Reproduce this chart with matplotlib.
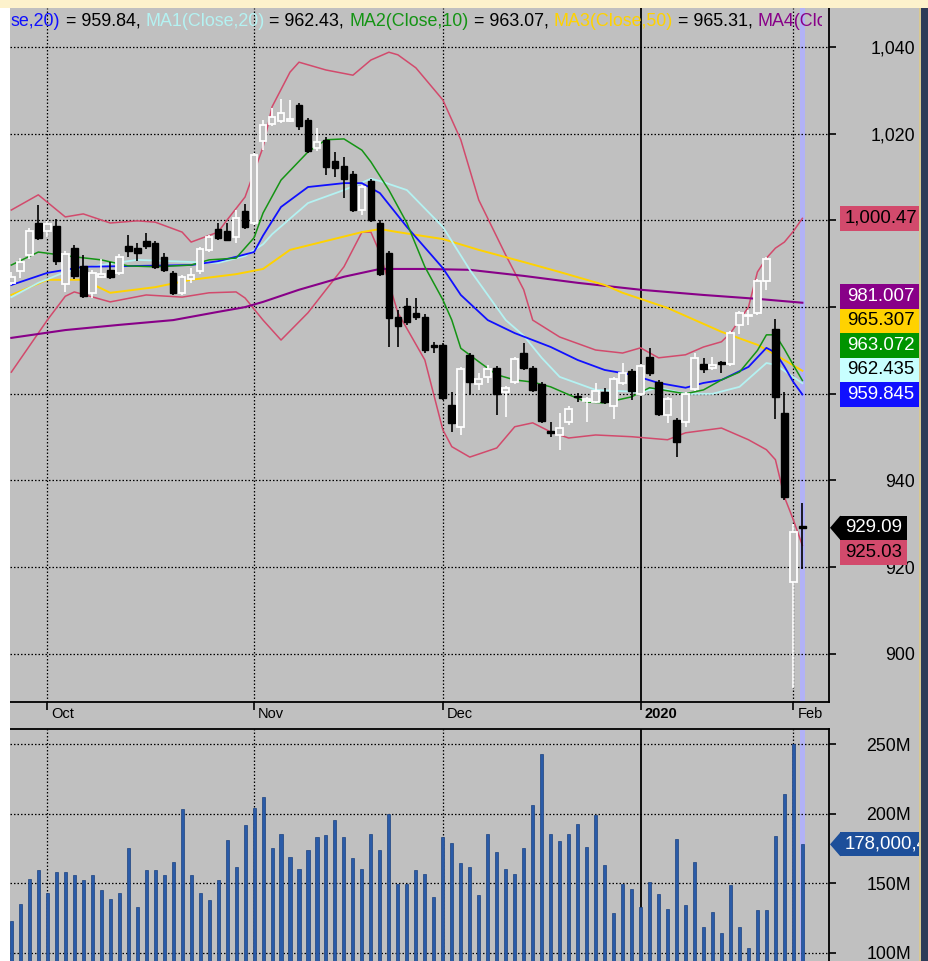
import matplotlib
matplotlib.use("Agg")
import matplotlib.pyplot as plt
from matplotlib import font_manager
from matplotlib.patches import Rectangle, Polygon
from matplotlib.transforms import blended_transform_factory, Bbox

# ---- daily bars (index 0 = first visible bar) ----
OPEN = [985.6, 988.3, 992.0, 999.4, 997.6, 998.7, 985.3, 993.6, 989.5, 983.3,
        987.0, 988.6, 987.9, 994.1, 993.6, 995.3, 994.8, 991.6, 987.9, 983.3,
        986.5, 988.3, 993.2, 998.0, 997.6, 996.2, 1002.2, 999.4, 1018.3, 1022.2,
        1022.9, 1023.0, 1026.6, 1023.2, 1016.7, 1018.6, 1013.7, 1012.6, 1010.7, 1002.4,
        1009.1, 999.4, 992.5, 977.7, 980.3, 978.7, 977.7, 971.0, 971.3, 957.4,
        952.4, 969.0, 962.3, 963.9, 966.0, 960.4, 962.7, 969.4, 966.0, 962.3,
        951.2, 950.5, 953.5, 959.4, 958.4, 958.1, 960.4, 957.2, 962.5, 965.3,
        960.0, 968.5, 962.7, 955.1, 954.0, 953.5, 961.1, 966.9, 966.0, 967.4,
        966.9, 975.9, 977.9, 978.7, 986.0, 975.0, 955.6, 916.6, 929.2]
HIGH = [988.0, 991.3, 998.3, 1003.6, 999.8, 1000.3, 993.0, 994.3, 992.0, 988.5,
        991.1, 990.4, 992.3, 996.6, 994.8, 997.1, 995.3, 992.5, 988.3, 987.4,
        989.0, 993.8, 996.7, 999.4, 999.4, 1002.4, 1003.8, 1015.6, 1023.2, 1025.9,
        1028.0, 1027.8, 1027.0, 1023.6, 1021.3, 1019.3, 1015.8, 1014.6, 1011.4, 1008.2,
        1009.6, 1000.0, 993.0, 979.3, 982.1, 982.1, 978.3, 972.0, 971.8, 960.4,
        966.2, 969.5, 964.8, 966.6, 966.4, 961.8, 968.5, 971.7, 966.4, 962.7,
        953.5, 955.6, 957.2, 960.2, 959.2, 962.5, 961.4, 963.8, 967.1, 965.7,
        966.9, 970.6, 963.2, 959.3, 954.5, 960.5, 969.4, 968.3, 968.5, 967.6,
        974.5, 979.2, 979.3, 986.5, 991.6, 977.3, 960.4, 930.0, 934.8]
LOW = [985.0, 986.7, 991.0, 995.5, 996.2, 989.7, 983.5, 986.5, 982.0, 982.2,
       986.6, 986.5, 987.5, 991.6, 990.6, 993.4, 988.8, 988.1, 982.9, 982.8,
       985.6, 987.7, 992.8, 995.5, 995.2, 994.8, 998.0, 999.0, 1016.2, 1021.8,
       1022.5, 1022.7, 1020.9, 1015.6, 1016.0, 1010.5, 1010.0, 1005.2, 1002.0, 1001.3,
       999.6, 987.2, 970.8, 970.8, 975.8, 977.0, 969.5, 969.4, 958.5, 951.2,
       950.5, 959.8, 960.9, 962.5, 955.1, 954.7, 962.2, 965.5, 960.5, 953.3,
       950.1, 947.1, 952.8, 958.1, 953.5, 957.8, 957.7, 954.2, 962.0, 958.6,
       959.5, 964.2, 954.9, 953.3, 945.4, 952.4, 960.6, 964.8, 965.6, 964.8,
       966.4, 973.8, 975.9, 978.2, 984.0, 954.2, 935.5, 892.2, 919.6]
CLOSE = [987.0, 990.4, 997.6, 995.9, 999.2, 990.6, 992.3, 987.2, 982.6, 987.9,
         987.7, 987.0, 991.6, 993.0, 992.5, 994.1, 989.3, 988.6, 983.3, 987.0,
         987.4, 993.4, 996.2, 995.9, 995.5, 1000.6, 998.5, 1015.1, 1022.0, 1023.9,
         1024.8, 1023.4, 1021.8, 1016.0, 1018.1, 1012.3, 1012.1, 1009.6, 1002.4, 1007.7,
         1000.1, 987.7, 977.5, 975.7, 976.6, 977.7, 970.1, 970.8, 959.0, 953.3,
         965.7, 962.7, 963.4, 965.7, 960.0, 961.4, 968.0, 966.0, 960.9, 953.7,
         951.0, 952.1, 956.5, 959.2, 958.8, 960.7, 958.1, 963.4, 964.8, 960.7,
         966.4, 964.8, 955.4, 958.8, 948.9, 960.0, 968.3, 965.7, 966.7, 966.9,
         974.0, 978.7, 978.1, 986.0, 991.1, 959.3, 936.2, 928.1, 929.09]
VOLUME_M = [122.7, 134.8, 153.4, 159.4, 142.8, 158.5, 158.5, 155.8, 152.2, 155.8,
            144.9, 138.9, 142.8, 175.1, 133.1, 159.4, 159.4, 155.8, 165.5, 203.6,
            155.8, 142.8, 137.9, 152.2, 181.2, 162.1, 191.6, 204.1, 212.1, 175.1,
            185.8, 169.1, 160.6, 173.9, 183.3, 184.5, 195.4, 183.3, 167.9, 160.6,
            185.8, 173.9, 200.0, 149.8, 149.8, 159.4, 157.0, 140.4, 183.3, 178.8,
            164.3, 161.8, 141.5, 185.5, 172.2, 160.6, 157.0, 175.1, 206.0, 243.0,
            185.5, 180.7, 185.5, 192.8, 175.9, 199.3, 163.0, 128.8, 149.8, 146.1,
            133.1, 151.0, 142.5, 131.7, 181.9, 134.3, 165.5, 118.6, 129.5, 114.3,
            148.8, 118.6, 103.4, 130.7, 130.7, 184.3, 214.0, 250.0, 178.0]

# ---- indicator lines, read at selected bars ----
MA_X = [0, 4, 8, 14, 20, 23, 25, 27, 28, 30, 33, 37, 39, 41, 44, 48, 50, 53, 56, 60,
        63, 66, 69, 72, 75, 77, 79, 82, 84, 85, 86, 87, 88]
MA_Y = [985.1, 987.9, 989.3, 989.5, 989.7, 990.6, 991.6, 992.7, 996.5, 1003.1, 1007.7,
        1008.6, 1008.6, 1006.3, 998.5, 989.0, 982.8, 977.0, 974.0, 970.8, 967.8, 965.5,
        964.4, 962.5, 961.4, 962.5, 963.2, 966.2, 970.6, 969.5, 966.3, 962.7, 959.845]
MA1_X = [0, 3, 6, 10, 14, 20, 23, 26, 28, 29, 33, 37, 40, 41, 44, 48, 51, 55, 57, 59,
         61, 65, 70, 72, 75, 78, 81, 84, 85, 88]
MA1_Y = [982.3, 985.6, 988.1, 989.7, 990.9, 990.4, 990.2, 991.8, 994.5, 996.8, 1004.0,
         1007.0, 1009.6, 1009.1, 1007.0, 998.5, 988.6, 977.0, 973.4, 968.3, 963.9, 960.9,
         960.4, 961.4, 960.0, 960.0, 961.6, 967.1, 966.7, 962.435]
MA2_X = [0, 3, 7, 10, 13, 16, 20, 22, 25, 27, 28, 30, 33, 35, 37, 39, 40, 42, 44, 46,
         48, 49, 50, 52, 54, 56, 58, 60, 62, 64, 66, 69, 71, 75, 77, 79, 81, 83, 84, 85,
         86, 87, 88]
MA2_Y = [989.7, 992.7, 991.6, 990.9, 989.5, 989.3, 989.7, 990.9, 991.3, 996.0, 1001.7,
         1009.3, 1015.8, 1018.6, 1018.8, 1016.2, 1013.5, 1007.0, 999.4, 989.3, 981.7,
         977.0, 970.5, 967.4, 964.4, 963.2, 962.7, 961.6, 959.8, 958.1, 957.9, 959.3,
         961.4, 960.0, 960.9, 963.2, 965.0, 970.0, 973.6, 973.6, 970.3, 966.6, 963.072]
MA3_X = [0, 4, 8, 11, 16, 20, 25, 28, 31, 39, 41, 43, 48, 52, 57, 61, 66, 68, 73, 79,
         83, 85, 88]
MA3_Y = [982.8, 986.3, 986.3, 983.3, 984.6, 986.3, 987.6, 988.8, 993.2, 997.3, 998.0,
         997.3, 995.7, 993.2, 990.4, 988.1, 985.1, 983.3, 979.8, 974.3, 971.3, 969.0,
         965.307]
MA4_X = [0, 6, 12, 18, 23, 26, 28, 32, 37, 41, 46, 51, 57, 63, 70, 77, 83, 88]
MA4_Y = [972.9, 974.7, 975.9, 977.0, 978.9, 980.0, 981.2, 984.0, 987.0, 988.8, 988.8,
         988.6, 987.2, 985.6, 984.0, 982.8, 981.9, 981.007]
BB_UP_X = [0, 3, 6, 8, 11, 14, 16, 19, 20, 23, 24, 26, 28, 29, 31, 32, 35, 38, 40, 42,
           43, 45, 48, 50, 52, 55, 57, 58, 61, 65, 68, 70, 72, 75, 77, 79, 80, 82, 83,
           84, 85, 86, 87, 88]
BB_UP_Y = [1002.4, 1005.9, 1000.8, 1001.5, 999.4, 999.9, 999.6, 997.3, 995.0, 997.3,
           1000.1, 1005.4, 1016.9, 1026.2, 1034.2, 1036.5, 1034.7, 1033.5, 1037.0, 1038.8,
           1038.2, 1035.2, 1027.8, 1018.6, 1004.7, 992.0, 984.0, 977.0, 973.1, 970.1,
           969.4, 970.6, 968.3, 969.0, 970.8, 972.0, 974.0, 980.0, 988.1, 991.3, 993.6,
           995.0, 997.5, 1000.47]
BB_LO_X = [0, 2, 4, 6, 7, 11, 15, 19, 22, 25, 26, 28, 30, 33, 37, 39, 40, 41, 43, 46,
           48, 49, 51, 54, 56, 58, 60, 62, 65, 69, 73, 75, 79, 80, 82, 84, 85, 86, 87, 88]
BB_LO_Y = [965.0, 971.0, 977.0, 982.5, 983.5, 981.2, 982.8, 982.3, 983.3, 983.5, 982.1,
           977.0, 972.4, 978.7, 989.3, 997.3, 997.3, 992.5, 978.7, 967.8, 951.7, 947.8,
           945.4, 947.5, 952.4, 953.3, 951.2, 949.8, 950.5, 950.1, 949.4, 951.0, 952.1,
           951.2, 949.4, 947.1, 944.8, 936.2, 930.9, 925.03]

MONTH_POS = [4, 27, 48, 70, 87]
MONTH_LABELS = ["Oct", "Nov", "Dec", "2020", "Feb"]
YEAR_POS = 70
PRICE_TICKS = [900, 920, 940, 960, 980, 1000, 1020, 1040]
# 960 / 980 / 1,000 sit under the value boxes in the original
PRICE_TICK_LABELS = ["900", "920", "940", "", "", "", "1,020", "1,040"]
VOL_TICKS = [100, 150, 200, 250]
VOL_TICK_LABELS = ["100M", "150M", "200M", "250M"]

# colours
BG = "#c0c0c0"
C_MA = "#1010ff"
C_MA1 = "#b4f2f2"
C_MA2 = "#149414"
C_MA3 = "#ffd200"
C_MA4 = "#880088"
C_BB = "#d24a6c"
C_VOL = "#2a5ba8"

LEGEND_PARTS = [("se,20)", C_MA), ("= 959.84,", "black"),
                ("MA1(Close,20)", C_MA1), ("= 962.43,", "black"),
                ("MA2(Close,10)", C_MA2), ("= 963.07,", "black"),
                ("MA3(Close,50)", C_MA3), ("= 965.31,", "black"),
                ("MA4(Close,200)", C_MA4), ("= 981.01", "black")]

# right-side value boxes: upper group stacks upward from the blue one
UPPER_BOXES = [(959.845, "959.845", C_MA, "white"),
               (962.435, "962.435", "#c8ffff", "black"),
               (963.072, "963.072", "#009400", "white"),
               (965.307, "965.307", C_MA3, "black"),
               (981.007, "981.007", C_MA4, "white")]
TOP_BOX = (1000.47, "1,000.47", C_BB, "black")
LAST_BOX = (929.09, "929.09", "black", "white")
LOW_BOX = (925.03, "925.03", C_BB, "black")
VOL_BOX = (178.0, "178,000,4", "#1d4f9a", "white")


def pick_font(names):
    for n in names:
        try:
            font_manager.findfont(font_manager.FontProperties(family=n),
                                  fallback_to_default=False)
            return n, True
        except Exception:
            pass
    return "Liberation Sans", False


FONT, NARROW = pick_font(["Liberation Sans Narrow"])
if NARROW:
    FS_LEG, FS_AX, FS_BOX, FS_DATE = 15, 15.5, 16, 12.5
else:
    FS_LEG, FS_AX, FS_BOX, FS_DATE = 12.85, 12.8, 13.4, 10.5
plt.rcParams["font.family"] = [FONT, "DejaVu Sans"]

W, H = 929, 961
fig = plt.figure(figsize=(W / 100, H / 100), dpi=100, facecolor=BG)


def fx(px):
    return px / W


def fy(py):
    return 1 - py / H


# page decoration
fig.patches.append(Rectangle((0, 0), fx(10), 1, transform=fig.transFigure,
                             facecolor="white", edgecolor="none", zorder=0))
fig.patches.append(Rectangle((0, fy(8)), 1, 1 - fy(8), transform=fig.transFigure,
                             facecolor="#fdf2cc", edgecolor="none", zorder=0))

ax = fig.add_axes([fx(10), fy(702), fx(829) - fx(10), fy(8) - fy(702)])
axv = fig.add_axes([fx(10), 0, fx(829) - fx(10), fy(729)])

n = len(CLOSE)
idx = list(range(n))
XMAX = (829 - 10) / 8.989 - 0.15

for a in (ax, axv):
    a.set_facecolor(BG)
    a.set_xlim(-0.15, XMAX)
    for s in ("left", "top", "bottom", "right"):
        a.spines[s].set_visible(False)
    a.spines["right"].set_visible(True)
    a.spines["right"].set_linewidth(1.3)
    a.yaxis.tick_right()
    for p in MONTH_POS:
        if p == YEAR_POS:
            a.axvline(p, color="black", lw=1.3, zorder=1.2)
        else:
            a.axvline(p, color="black", lw=0.9, ls=(0, (1.2, 1.6)), zorder=1.2)
    # current bar highlight
    a.axvspan(n - 1 - 0.3, n - 1 + 0.3, color="#b2b2f6", lw=0, zorder=0.8)

ax.spines["bottom"].set_visible(True)
ax.spines["bottom"].set_linewidth(1.3)
axv.spines["top"].set_visible(True)
axv.spines["top"].set_linewidth(1.3)

# ---- price panel ----
ax.set_ylim(888.9, 1049.0)
for v in PRICE_TICKS:
    ax.axhline(v, color="black", lw=0.9, ls=(0, (1.2, 1.6)), zorder=1.2)
ax.set_yticks(PRICE_TICKS)
ax.set_yticklabels(PRICE_TICK_LABELS)
ax.tick_params(axis="y", direction="out", length=5, width=1.2, pad=57,
               labelsize=FS_AX, colors="black")
for lab in ax.get_yticklabels():
    lab.set_horizontalalignment("right")

ax.set_xticks(MONTH_POS)
ax.set_xticklabels([])
ax.tick_params(axis="x", direction="out", length=6, width=1.2)
trans_x = blended_transform_factory(ax.transData, ax.transAxes)
for p, lab in zip(MONTH_POS, MONTH_LABELS):
    ax.text(p + 0.45, -0.0175, lab, transform=trans_x, ha="left", va="center",
            fontsize=FS_DATE, fontweight="bold" if lab == "2020" else "normal",
            color="black", clip_on=False)

# bands and moving averages
ax.plot(BB_UP_X, BB_UP_Y, color=C_BB, lw=1.1, zorder=2)
ax.plot(BB_LO_X, BB_LO_Y, color=C_BB, lw=1.1, zorder=2)
ax.plot(MA4_X, MA4_Y, color=C_MA4, lw=1.5, zorder=2.1)
ax.plot(MA3_X, MA3_Y, color=C_MA3, lw=1.4, zorder=2.1)
ax.plot(MA1_X, MA1_Y, color=C_MA1, lw=1.3, zorder=2.2)
ax.plot(MA_X, MA_Y, color=C_MA, lw=1.3, zorder=2.3)
ax.plot(MA2_X, MA2_Y, color=C_MA2, lw=1.1, zorder=2.3)

# candles
for i in idx:
    o, h, l, c = OPEN[i], HIGH[i], LOW[i], CLOSE[i]
    up = c >= o
    col = "white" if up else "black"
    ax.vlines(i, l, h, color=col, lw=1.2, zorder=3)
    bottom = min(o, c)
    height = max(abs(c - o), 0.35)
    if up:
        ax.add_patch(Rectangle((i - 0.37, bottom), 0.74, height, facecolor=BG,
                               edgecolor="white", lw=1.3, zorder=3.5))
    else:
        ax.add_patch(Rectangle((i - 0.37, bottom), 0.74, height, facecolor="black",
                               edgecolor="black", lw=1.0, zorder=3.5))

# legend line at the top, clipped like the original
renderer = fig.canvas.get_renderer()


def text_width(s):
    t = fig.text(0, 0, s, fontsize=FS_LEG)
    w = t.get_window_extent(renderer).width
    t.remove()
    return w


clip = Bbox.from_extents(10, 0, 822, H)
x0 = 11
for k, (s, col) in enumerate(LEGEND_PARTS):
    prefix = " ".join(p for p, _ in LEGEND_PARTS[:k + 1])
    xk = x0 + text_width(prefix) - text_width(s)
    t = fig.text(fx(xk), fy(21), s, color=col, fontsize=FS_LEG, ha="left",
                 va="center", zorder=20)
    t.set_clip_box(clip)
    t.set_clip_on(True)

# value boxes on the price scale
box_tr = blended_transform_factory(ax.transAxes, ax.transData)
ppx = (1049.0 - 888.9) / 694.0
BOX_H = 24.5 * ppx
bx0 = (840 - 10) / 819.0
bw_full = 81 / 819.0
bw_short = 67 / 819.0
tip = (830 - 10) / 819.0


def draw_box(a, tr, yc, h, text, fc, tc, width, arrow=False):
    a.add_patch(Rectangle((bx0, yc - h / 2), width, h, transform=tr, facecolor=fc,
                          edgecolor="none", clip_on=False, zorder=10))
    if arrow:
        a.add_patch(Polygon([(tip, yc), (bx0 + 0.0005, yc + h / 2), (bx0 + 0.0005, yc - h / 2)],
                            closed=True, transform=tr, facecolor=fc, edgecolor="none",
                            clip_on=False, zorder=10))
    a.text(bx0 + width / 2, yc, text, transform=tr, ha="center", va="center",
           fontsize=FS_BOX, color=tc, clip_on=False, zorder=11)


prev = None
for v, s, fc, tc in UPPER_BOXES:
    yc = v if prev is None else max(v, prev + BOX_H)
    draw_box(ax, box_tr, yc, BOX_H, s, fc, tc, bw_full)
    prev = yc
draw_box(ax, box_tr, TOP_BOX[0], BOX_H, TOP_BOX[1], TOP_BOX[2], TOP_BOX[3], bw_full)
draw_box(ax, box_tr, LAST_BOX[0], BOX_H, LAST_BOX[1], LAST_BOX[2], LAST_BOX[3],
         bw_short, arrow=True)
draw_box(ax, box_tr, min(LOW_BOX[0], LAST_BOX[0] - BOX_H), BOX_H, LOW_BOX[1],
         LOW_BOX[2], LOW_BOX[3], bw_short)

# ---- volume panel ----
axv.set_ylim(94.2, 260.9)
for v in VOL_TICKS:
    axv.axhline(v, color="black", lw=0.9, ls=(0, (1.2, 1.6)), zorder=1.2)
axv.bar(idx, VOLUME_M, width=0.34, color=C_VOL, edgecolor="#1b427f", lw=0.5, zorder=3)
axv.set_xticks([])
axv.set_yticks(VOL_TICKS)
axv.set_yticklabels(VOL_TICK_LABELS)
axv.tick_params(axis="y", direction="out", length=5, width=1.2, pad=54,
                labelsize=FS_AX, colors="black")
for lab in axv.get_yticklabels():
    lab.set_horizontalalignment("right")

vol_tr = blended_transform_factory(axv.transAxes, axv.transData)
VBOX_H = 24.0 * (260.9 - 94.2) / 232.0
vy = VOL_BOX[0]
axv.add_patch(Rectangle((bx0, vy - VBOX_H / 2), bw_full, VBOX_H, transform=vol_tr,
                        facecolor=VOL_BOX[2], edgecolor="none", clip_on=False, zorder=10))
axv.add_patch(Polygon([(tip, vy), (bx0 + 0.0005, vy + VBOX_H / 2), (bx0 + 0.0005, vy - VBOX_H / 2)],
                      closed=True, transform=vol_tr, facecolor=VOL_BOX[2], edgecolor="none",
                      clip_on=False, zorder=10))
axv.text(bx0 + 0.006, vy, VOL_BOX[1], transform=vol_tr, ha="left", va="center",
         fontsize=FS_BOX, color=VOL_BOX[3], clip_on=False, zorder=11)

# right border strip drawn last so it covers the clipped volume label
fig.add_artist(Rectangle((fx(920), 0), 1 - fx(920), fy(8), transform=fig.transFigure,
                         facecolor="#2d3b58", edgecolor="none", zorder=50))
fig.add_artist(Rectangle((fx(919.5), 0), fx(1.2), fy(8), transform=fig.transFigure,
                         facecolor="#d8c890", edgecolor="none", zorder=51))

fig.savefig("out.png", dpi=100, facecolor=BG)
